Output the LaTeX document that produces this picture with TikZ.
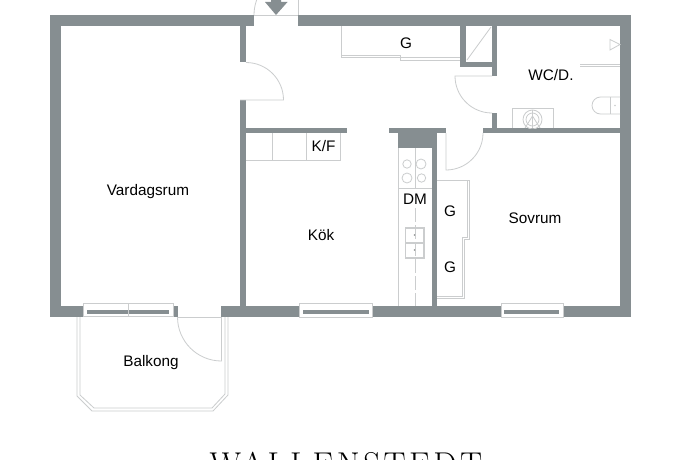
\documentclass[tikz,border=0pt]{standalone}
\usepackage{fontspec}
\setmainfont{Liberation Sans}
\newfontfamily\logofont[LetterSpace=10.6]{Latin Modern Roman}
\definecolor{wallgray}{HTML}{868E91}
\definecolor{fixgray}{HTML}{CBCDCE}
\tikzset{
  wallfill/.style={fill=wallgray,draw=none},
  fixture/.style={draw=fixgray,line width=0.8pt,fill=none},
  room/.style={font=\fontsize{15.3}{18}\selectfont,text=black,inner sep=0pt},
  windowbox/.style={fill=white,draw=fixgray,line width=0.8pt}
}
\begin{document}
\begin{tikzpicture}[x=1pt,y=-1pt]
\clip (0,0) rectangle (690,460);
\fill[white] (0,0) rectangle (690,460);
% outer walls
\fill[wallfill] (50,15) rectangle (254,26);
\fill[wallfill] (298,15) rectangle (631,26);
\fill[wallfill] (50,15) rectangle (61,317);
\fill[wallfill] (620,15) rectangle (631,317);
\fill[wallfill] (50,306) rectangle (83,317);
\fill[wallfill] (173,306) rectangle (177.5,317);
\fill[wallfill] (221,306) rectangle (631,317);
% interior walls
\fill[wallfill] (240,26) rectangle (246,62.5);
\fill[wallfill] (240,100) rectangle (246,306);
\fill[wallfill] (246,128) rectangle (346.5,133);
\fill[wallfill] (389,128) rectangle (446,133);
\fill[wallfill] (398,133) rectangle (436.5,148);
\fill[wallfill] (431.5,148) rectangle (436.5,306);
\fill[wallfill] (460,26) rectangle (466,67);
\fill[wallfill] (460,62) rectangle (497,67);
\fill[wallfill] (492,26) rectangle (497,76);
\fill[wallfill] (492,113) rectangle (497,128);
\fill[wallfill] (483,128) rectangle (620,133);
% windows
\draw[windowbox] (83,303) rectangle (173,316.5);
\fill[wallfill] (87,309.5) rectangle (169,313.5);
\draw[fixture] (128,303) -- (128,316.5);
\draw[windowbox] (299.5,303) rectangle (372,317);
\fill[wallfill] (303,309.5) rectangle (369,313.5);
\draw[windowbox] (501,303) rectangle (563,317);
\fill[wallfill] (504,309.5) rectangle (559,313.5);
% entrance
\draw[fixture] (254,15) arc[start angle=180,end angle=200,radius=44];
\draw[fixture] (298,0) -- (298,15);
\draw[fixture,line width=0.5pt] (254,15) -- (298,15);
\fill[wallfill] (271,0) -- (281,0) -- (281,2) -- (287.5,2) -- (276,15) -- (265,2) -- (271,2) -- cycle;
% doors
\draw[fixture] (246,62.5) arc[start angle=270,end angle=360,radius=37.5] -- (240,100);
\draw[fixture] (492,76) -- (455,76) arc[start angle=180,end angle=90,radius=37];
\draw[fixture] (446,133) -- (446,170) arc[start angle=90,end angle=0,radius=37];
\draw[fixture] (177.5,317) arc[start angle=180,end angle=90,radius=44] -- (221.5,317);
\draw[fixture] (177.5,317) -- (221,317);
% G closet in hall
\draw[fixture] (341,26) -- (341,57) -- (400,57) -- (400,60) -- (460,60);
\draw[fixture] (341,55) -- (400,55) -- (400,57) -- (460,57);
% K/F
\draw[fixture] (340.5,133) -- (340.5,160) -- (246,160);
\draw[fixture] (272.7,133) -- (272.7,160);
\draw[fixture] (306.5,133) -- (306.5,160);
% kitchen counter
\draw[fixture] (398,148) -- (398,306);
\draw[fixture] (398,188) -- (431.5,188);
\draw[fixture] (415,148) -- (415,188);
\draw[fixture,dash pattern=on 14pt off 3pt] (415,208) -- (415,306);
\draw[fixture] (407,164) circle[radius=4.2];
\draw[fixture] (421,164) circle[radius=5];
\draw[fixture] (407,178) circle[radius=5];
\draw[fixture] (421.5,178) circle[radius=4.2];
\draw[fixture,line width=1.2pt] (405.5,228) rectangle (424,243);
\draw[fixture,line width=1.2pt] (405.5,243) rectangle (424,258);
\fill[fixgray!70!black] (414.5,235) circle[radius=0.8];
\fill[fixgray!70!black] (414.5,250) circle[radius=0.8];
% bedroom wardrobes
\draw[fixture] (437,180) -- (469,180) -- (469,239) -- (464,239) -- (464,298) -- (437,298);
\draw[fixture] (467,180) -- (467,237) -- (462,237) -- (462,296) -- (437,296);
% WC
\draw[fixture] (491,27) -- (467,60);
\draw[fixture] (580,64.5) -- (620,64.5);
\draw[fixture] (580,66.5) -- (620,66.5);
\draw[fixture] (610,39.5) -- (620,44.5) -- (610,50) -- cycle;
\draw[fixture] (620,97) -- (600.5,97) arc[start angle=270,end angle=90,radius=8.5] -- (620,114);
\draw[fixture] (610,97) -- (610,114);
\fill[fixgray] (615,105.5) circle[radius=0.8];
\draw[fixture] (512.7,128) -- (512.7,108) -- (553,108) -- (553,128);
\begin{scope}
\clip (512,108) rectangle (553,128);
\draw[fixture] (532.5,119.5) circle[radius=9.5];
\draw[fixture] (532.5,119.5) circle[radius=6.5];
\draw[fixture] (532.5,110) -- (532.5,128);
\draw[fixture] (525,128) -- (532.5,116) -- (540,128);
\end{scope}
% balcony
\draw[fixture] (77,317) -- (77,396) -- (92,411) -- (213,411) -- (228,395) -- (228,317);
\draw[fixture] (80,317) -- (80,395) -- (94,408) -- (212,408) -- (225,394) -- (225,317);
% labels
\node[room] (g1) at (406,43) {G};
\node[room] (kf) at (323.5,146) {K/F};
\node[room] (wc) at (551,75) {WC/D.};
\node[room] (vard) at (148,191.5) {Vardagsrum};
\node[room] (kok) at (321,235) {Kök};
\node[room] (dm) at (415,199) {DM};
\node[room] (g2) at (450,211) {G};
\node[room] (g3) at (450,267) {G};
\node[room] (sov) at (535,218) {Sovrum};
\node[room] (balk) at (151,362.5) {Balkong};
\node[anchor=base,inner sep=0pt,font=\logofont\fontsize{33}{36}\selectfont] (logo) at (346,475.5) {WALLENSTEDT};
\end{tikzpicture}
\end{document}
